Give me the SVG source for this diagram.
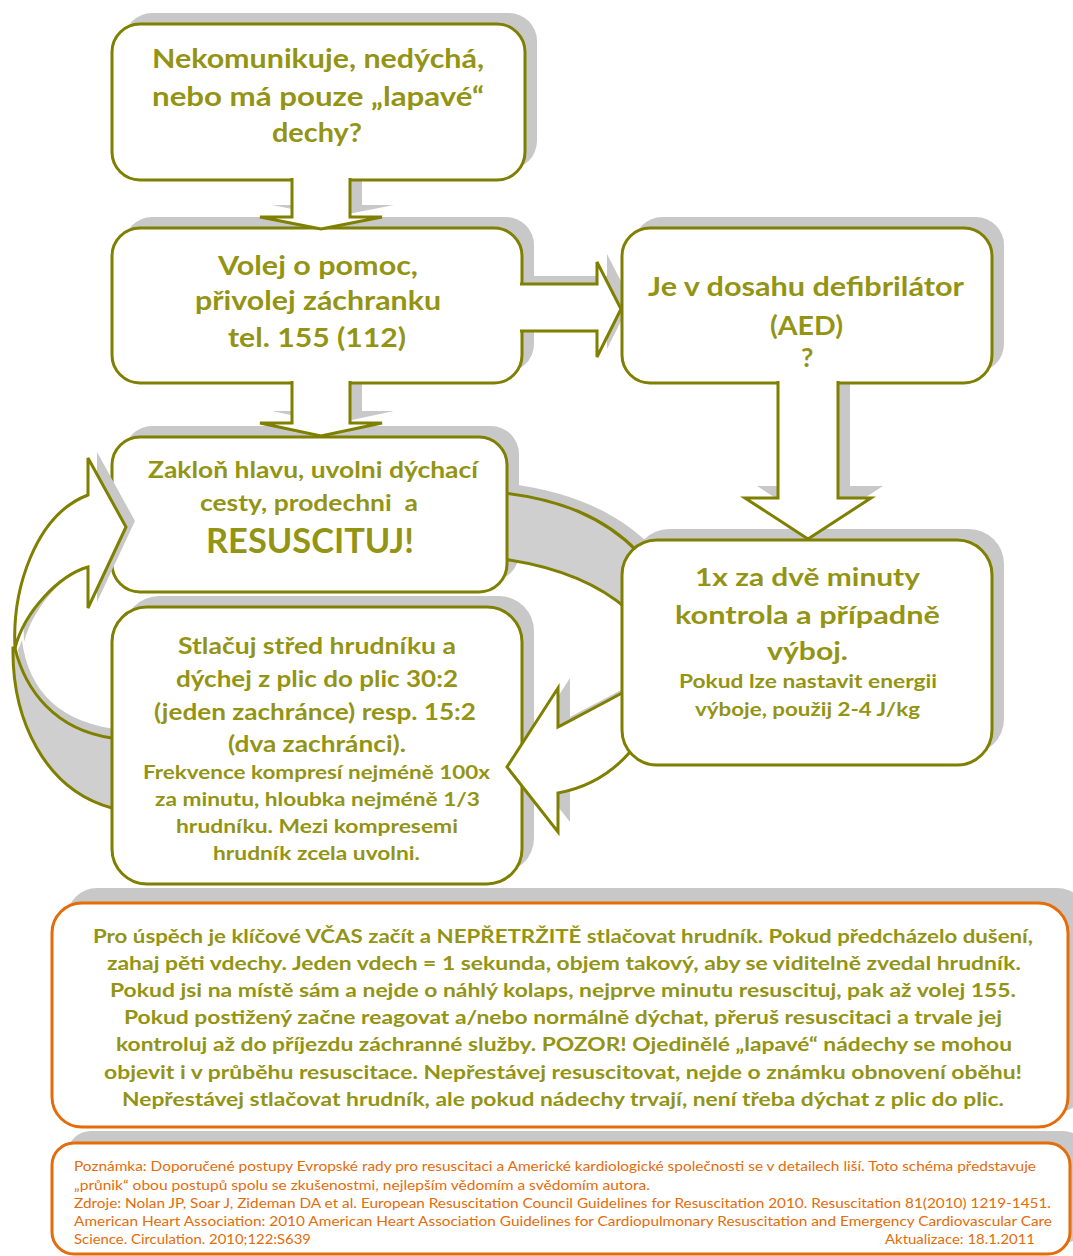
<svg xmlns="http://www.w3.org/2000/svg" width="1073" height="1256" viewBox="0 0 1073 1256">
<defs>
<style>
.box{fill:#fff;stroke:#7f7f00;stroke-width:3}
.sh{fill:#c8c8c8;stroke:none}
.arr{fill:#fff;stroke:#7f7f00;stroke-width:3;stroke-linejoin:miter}
.back{fill:#cfcfcf;stroke:#7f7f00;stroke-width:3}
.t{font-family:Lato,"Open Sans","DejaVu Sans",sans-serif;font-weight:bold;fill:#949414}
.ob{fill:#fff;stroke:#e46c0a;stroke-width:3}
.osh{fill:#c8c8c8}
.o1{font-family:Lato,"Open Sans",sans-serif;font-weight:bold;fill:#949414;font-size:19px}
.o2{font-family:Lato,"Open Sans",sans-serif;fill:#e46c0a;font-size:12.5px}
</style>
<path id="aDown1" d="M292,178 L292,217 L260,217 L321,229 L382,217 L350,217 L350,178"/>
<path id="aDown2" d="M292,381 L292,423 L260,423 L321,436 L382,423 L350,423 L350,381"/>
<path id="aRight" d="M520,284 L597,284 L597,262 L621,309 L597,357 L597,331 L520,331"/>
<path id="aDown3" d="M778,381 L778,498 L745,498 L808,539 L871,498 L838,498 L838,381"/>
<path id="ringRightFront" d="M622,693 C600,705 575,718 558,727 L558,688 L507,767 L558,832 L558,793 C585,788 610,775 630,752"/>
<path id="ringLeftFront" d="M88,495 L88,458 L126,527 L88,608 L88,567 C60,575 25,610 15,648 C12,590 35,515 88,495 Z"/>
</defs>

<!-- shadows -->
<g id="shadows">
  <rect class="sh" x="124" y="13" width="413" height="156" rx="28"/>
  <rect class="sh" x="124" y="217" width="410" height="155" rx="28"/>
  <rect class="sh" x="634" y="217" width="370" height="155" rx="28"/>
  <rect class="sh" x="124" y="426" width="395" height="155" rx="28"/>
  <rect class="sh" x="124" y="596" width="410" height="277" rx="35"/>
  <rect class="sh" x="634" y="529" width="370" height="225" rx="35"/>
  <use href="#aDown1" class="sh" transform="translate(12,-12)"/>
  <use href="#aDown2" class="sh" transform="translate(12,-12)"/>
  <use href="#aRight" class="sh" transform="translate(10,-8)"/>
  <use href="#aDown3" class="sh" transform="translate(12,-12)"/>
  <path class="sh" d="M495,482 C560,488 610,508 645,540 L630,595 C605,575 565,555 495,548 Z"/>
  <use href="#ringRightFront" class="sh" transform="translate(12,-10)"/>
  <path class="sh" d="M22,640 C28,690 60,725 125,730 L125,745 C60,740 25,700 18,650 Z"/>
  <rect class="osh" x="67" y="888" width="1020" height="224" rx="30"/>
  <rect class="osh" x="67" y="1131" width="1020" height="112" rx="24"/>
</g>

<!-- ring back faces -->
<g id="ring-back">
  <path class="back" d="M13,648 C12,720 45,790 112,808 L140,808 L140,738 L112,738 C55,730 25,690 15,648 Z"/>
  <path class="back" d="M495,492 C560,498 605,518 638,552 L628,610 C600,585 560,566 495,558 Z"/>
</g>

<g id="n1">
  <rect class="box" x="112" y="24" width="413" height="156" rx="28"/>
  <text class="t" font-size="27" x="152" y="68" textLength="332" lengthAdjust="spacingAndGlyphs">Nekomunikuje, nedýchá,</text>
  <text class="t" font-size="27" x="152" y="106" textLength="332" lengthAdjust="spacingAndGlyphs">nebo má pouze „lapavé“</text>
  <text class="t" font-size="27" x="272" y="142" textLength="90" lengthAdjust="spacingAndGlyphs">dechy?</text>
</g>
<g id="n2">
  <rect class="box" x="112" y="228" width="410" height="155" rx="28"/>
  <text class="t" font-size="27" x="218" y="275" textLength="200" lengthAdjust="spacingAndGlyphs">Volej o pomoc,</text>
  <text class="t" font-size="27" x="195" y="310" textLength="246" lengthAdjust="spacingAndGlyphs">přivolej záchranku</text>
  <text class="t" font-size="27" x="228" y="347" textLength="178" lengthAdjust="spacingAndGlyphs">tel. 155 (112)</text>
</g>
<g id="n3">
  <rect class="box" x="622" y="228" width="370" height="155" rx="28"/>
  <text class="t" font-size="27" x="648" y="296" textLength="316" lengthAdjust="spacingAndGlyphs">Je v dosahu defibrilátor</text>
  <text class="t" font-size="27" x="770" y="335" textLength="73" lengthAdjust="spacingAndGlyphs">(AED)</text>
  <text class="t" font-size="27" x="801" y="367">?</text>
</g>
<g id="n4">
  <rect class="box" x="112" y="437" width="395" height="155" rx="28"/>
  <text class="t" font-size="23" x="148" y="478" textLength="330" lengthAdjust="spacingAndGlyphs">Zakloň hlavu, uvolni dýchací</text>
  <text class="t" font-size="23" x="200" y="511" textLength="218" lengthAdjust="spacingAndGlyphs" xml:space="preserve">cesty, prodechni  a</text>
  <text class="t" font-size="35" x="206" y="553" textLength="208" lengthAdjust="spacingAndGlyphs">RESUSCITUJ!</text>
</g>
<g id="n5">
  <rect class="box" x="112" y="607" width="410" height="277" rx="35"/>
  <text class="t" font-size="23" x="178" y="654" textLength="278" lengthAdjust="spacingAndGlyphs">Stlačuj střed hrudníku a</text>
  <text class="t" font-size="23" x="176" y="687" textLength="282" lengthAdjust="spacingAndGlyphs">dýchej z plic do plic 30:2</text>
  <text class="t" font-size="23" x="154" y="720" textLength="322" lengthAdjust="spacingAndGlyphs">(jeden zachránce) resp. 15:2</text>
  <text class="t" font-size="23" x="228" y="752" textLength="178" lengthAdjust="spacingAndGlyphs">(dva zachránci).</text>
  <text class="t" font-size="19" x="143" y="779" textLength="347" lengthAdjust="spacingAndGlyphs">Frekvence kompresí nejméně 100x</text>
  <text class="t" font-size="19" x="155" y="806" textLength="325" lengthAdjust="spacingAndGlyphs">za minutu, hloubka nejméně 1/3</text>
  <text class="t" font-size="19" x="176" y="833" textLength="282" lengthAdjust="spacingAndGlyphs">hrudníku. Mezi kompresemi</text>
  <text class="t" font-size="19" x="213" y="860" textLength="207" lengthAdjust="spacingAndGlyphs">hrudník zcela uvolni.</text>
</g>

<g id="connectors">
  <use href="#ringRightFront" class="arr"/>
</g>

<g id="n6">
  <rect class="box" x="622" y="540" width="370" height="225" rx="35"/>
  <text class="t" font-size="25" x="695" y="586" textLength="225" lengthAdjust="spacingAndGlyphs">1x za dvě minuty</text>
  <text class="t" font-size="25" x="675" y="624" textLength="265" lengthAdjust="spacingAndGlyphs">kontrola a případně</text>
  <text class="t" font-size="25" x="767" y="660" textLength="81" lengthAdjust="spacingAndGlyphs">výboj.</text>
  <text class="t" font-size="19" x="679" y="688" textLength="258" lengthAdjust="spacingAndGlyphs">Pokud lze nastavit energii</text>
  <text class="t" font-size="19" x="695" y="716" textLength="225" lengthAdjust="spacingAndGlyphs">výboje, použij 2-4 J/kg</text>
</g>

<g id="connectors-front">
  <use href="#ringLeftFront" class="sh" transform="translate(9,-6)"/>
  <use href="#ringLeftFront" class="arr"/>
  <use href="#aDown1" class="arr"/>
  <use href="#aDown2" class="arr"/>
  <use href="#aRight" class="arr"/>
  <use href="#aDown3" class="arr"/>
</g>

<g id="note">
  <rect class="ob" x="52" y="903" width="1016" height="224" rx="30"/>
  <text class="o1" x="93" y="943" textLength="940" lengthAdjust="spacingAndGlyphs">Pro úspěch je klíčové VČAS začít a NEPŘETRŽITĚ stlačovat hrudník. Pokud předcházelo dušení,</text>
  <text class="o1" x="107" y="970" textLength="914" lengthAdjust="spacingAndGlyphs">zahaj pěti vdechy. Jeden vdech = 1 sekunda, objem takový, aby se viditelně zvedal hrudník.</text>
  <text class="o1" x="110" y="997" textLength="906" lengthAdjust="spacingAndGlyphs">Pokud jsi na místě sám a nejde o náhlý kolaps, nejprve minutu resuscituj, pak až volej 155.</text>
  <text class="o1" x="124" y="1024" textLength="878" lengthAdjust="spacingAndGlyphs">Pokud postižený začne reagovat a/nebo normálně dýchat, přeruš resuscitaci a trvale jej</text>
  <text class="o1" x="116" y="1051" textLength="896" lengthAdjust="spacingAndGlyphs">kontroluj až do příjezdu záchranné služby. POZOR! Ojedinělé „lapavé“ nádechy se mohou</text>
  <text class="o1" x="104" y="1079" textLength="918" lengthAdjust="spacingAndGlyphs">objevit i v průběhu resuscitace. Nepřestávej resuscitovat, nejde o známku obnovení oběhu!</text>
  <text class="o1" x="122" y="1106" textLength="882" lengthAdjust="spacingAndGlyphs">Nepřestávej stlačovat hrudník, ale pokud nádechy trvají, není třeba dýchat z plic do plic.</text>
</g>

<g id="sources">
  <rect class="ob" x="52" y="1143" width="1018" height="111" rx="22"/>
  <text class="o2" x="74" y="1171" textLength="962" lengthAdjust="spacingAndGlyphs">Poznámka: Doporučené postupy Evropské rady pro resuscitaci a Americké kardiologické společnosti se v detailech liší. Toto schéma představuje</text>
  <text class="o2" x="74" y="1190" textLength="576" lengthAdjust="spacingAndGlyphs">„průnik“ obou postupů spolu se zkušenostmi, nejlepším vědomím a svědomím autora.</text>
  <text class="o2" x="74" y="1208" textLength="977" lengthAdjust="spacingAndGlyphs">Zdroje: Nolan JP, Soar J, Zideman DA et al. European Resuscitation Council Guidelines for Resuscitation 2010. Resuscitation 81(2010) 1219-1451.</text>
  <text class="o2" x="74" y="1226" textLength="978" lengthAdjust="spacingAndGlyphs">American Heart Association: 2010 American Heart Association Guidelines for Cardiopulmonary Resuscitation and Emergency Cardiovascular Care</text>
  <text class="o2" x="74" y="1244" textLength="237" lengthAdjust="spacingAndGlyphs">Science. Circulation. 2010;122:S639</text>
  <text class="o2" x="885" y="1244" textLength="150" lengthAdjust="spacingAndGlyphs">Aktualizace: 18.1.2011</text>
</g>
</svg>
